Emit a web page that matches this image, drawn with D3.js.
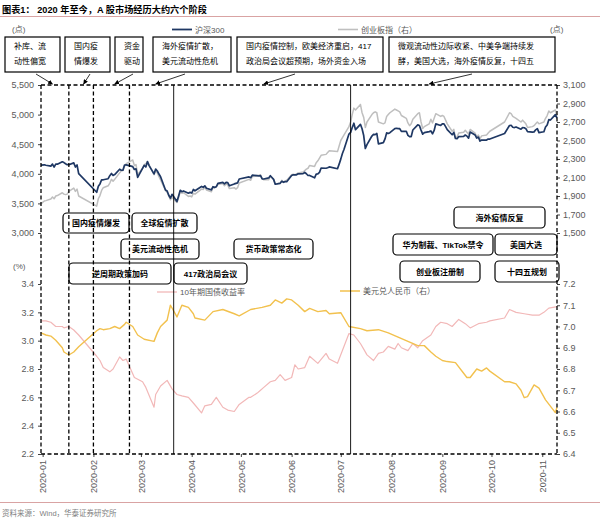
<!DOCTYPE html>
<html><head><meta charset="utf-8">
<script src="https://cdn.jsdelivr.net/npm/d3@7"></script>
<style>
body{margin:0;background:#fff}
svg{display:block}
text{font-family:"Liberation Sans","Noto Sans CJK SC",sans-serif}
</style>
</head><body>
<svg id="c" width="600" height="522"></svg>
<script>
// ---------- DATA ----------
const upDates = [
 "2019-12-31",
 "2020-01-02","2020-01-03","2020-01-06","2020-01-07","2020-01-08","2020-01-09","2020-01-10","2020-01-13","2020-01-14","2020-01-15","2020-01-16","2020-01-17","2020-01-20","2020-01-21","2020-01-22","2020-01-23",
 "2020-02-03","2020-02-04","2020-02-05","2020-02-06","2020-02-07","2020-02-10","2020-02-11","2020-02-12","2020-02-13","2020-02-14","2020-02-17","2020-02-18","2020-02-19","2020-02-20","2020-02-21","2020-02-24","2020-02-25","2020-02-26","2020-02-27","2020-02-28",
 "2020-03-02","2020-03-03","2020-03-04","2020-03-05","2020-03-06","2020-03-09","2020-03-10","2020-03-11","2020-03-12","2020-03-13","2020-03-16","2020-03-17","2020-03-18","2020-03-19","2020-03-20","2020-03-23","2020-03-24","2020-03-25","2020-03-26","2020-03-27","2020-03-30","2020-03-31",
 "2020-04-01","2020-04-02","2020-04-03","2020-04-07","2020-04-08","2020-04-09","2020-04-10","2020-04-13","2020-04-14","2020-04-15","2020-04-16","2020-04-17","2020-04-20","2020-04-21","2020-04-22","2020-04-23","2020-04-24","2020-04-27","2020-04-28","2020-04-29","2020-04-30",
 "2020-05-06","2020-05-07","2020-05-08","2020-05-11","2020-05-12","2020-05-13","2020-05-14","2020-05-15","2020-05-18","2020-05-19","2020-05-20","2020-05-21","2020-05-22","2020-05-25","2020-05-26","2020-05-27","2020-05-28","2020-05-29",
 "2020-06-01","2020-06-02","2020-06-03","2020-06-04","2020-06-05","2020-06-08","2020-06-09","2020-06-10","2020-06-11","2020-06-12","2020-06-15","2020-06-16","2020-06-17","2020-06-18","2020-06-19","2020-06-22","2020-06-23","2020-06-24","2020-06-29","2020-06-30",
 "2020-07-01","2020-07-02","2020-07-03","2020-07-06","2020-07-07","2020-07-08","2020-07-09","2020-07-10","2020-07-13","2020-07-14","2020-07-15","2020-07-16","2020-07-17","2020-07-20","2020-07-21","2020-07-22","2020-07-23","2020-07-24","2020-07-27","2020-07-28","2020-07-29","2020-07-30","2020-07-31",
 "2020-08-03","2020-08-04","2020-08-05","2020-08-06","2020-08-07","2020-08-10","2020-08-11","2020-08-12","2020-08-13","2020-08-14","2020-08-17","2020-08-18","2020-08-19","2020-08-20","2020-08-21","2020-08-24","2020-08-25","2020-08-26","2020-08-27","2020-08-28","2020-08-31",
 "2020-09-01","2020-09-02","2020-09-03","2020-09-04","2020-09-07","2020-09-08","2020-09-09","2020-09-10","2020-09-11","2020-09-14","2020-09-15","2020-09-16","2020-09-17","2020-09-18","2020-09-21","2020-09-22","2020-09-23","2020-09-24","2020-09-25","2020-09-28","2020-09-29","2020-09-30",
 "2020-10-09","2020-10-12","2020-10-13","2020-10-14","2020-10-15","2020-10-16","2020-10-19","2020-10-20","2020-10-21","2020-10-22","2020-10-23","2020-10-26","2020-10-27","2020-10-28","2020-10-29","2020-10-30",
 "2020-11-02","2020-11-03","2020-11-04","2020-11-05","2020-11-06","2020-11-09","2020-11-10"
];
const hs300 = [
 4145,
 4152,4144,4130,4165,4113,4164,4163,4203,4189,4170,4154,4154,4185,4114,4149,4003,
 3688,3790,3829,3899,3899,3917,3969,4006,3973,3987,4077,4060,4061,4149,4150,4130,4122,4073,4085,3940,
 4091,4144,4115,4206,4139,3998,4081,4047,3996,3950,3727,3710,3637,3589,3653,3531,3625,3722,3698,3710,3673,3686,
 3675,3735,3713,3786,3772,3797,3756,3728,3782,3771,3781,3839,3854,3830,3856,3852,3797,3829,3838,3847,3912,
 3947,3934,3976,3970,3963,3970,3915,3912,3930,3968,3937,3906,3824,3839,3873,3856,3868,3867,
 3971,3983,3982,3983,3999,4003,4023,4001,3971,3972,3932,3994,3998,4024,4098,4094,4102,4117,4086,4163,
 4248,4342,4414,4671,4698,4783,4855,4745,4836,4760,4646,4427,4494,4638,4666,4662,4681,4505,4526,4589,4691,4681,4695,
 4762,4769,4764,4762,4717,4718,4650,4629,4628,4740,4826,4817,4738,4670,4695,4712,4724,4676,4732,4844,4816,
 4842,4843,4796,4746,4660,4698,4597,4593,4628,4632,4655,4637,4602,4705,4656,4604,4620,4553,4570,4570,4587,4587,
 4681,4816,4819,4786,4781,4791,4754,4781,4778,4763,4712,4703,4708,4743,4763,4695,
 4710,4791,4825,4915,4908,4999,4942
];
const chinext = [
 1815,
 1846,1850,1867,1890,1870,1900,1905,1935,1920,1915,1920,1950,1985,1950,1975,1900,
 1790,1870,1905,1960,1990,2010,2040,2080,2060,2080,2150,2170,2175,2220,2250,2280,2290,2230,2240,2130,
 2200,2240,2250,2270,2235,2130,2175,2150,2110,2075,1960,1940,1900,1860,1885,1830,1880,1945,1930,1935,1895,1900,
 1890,1930,1920,1975,1970,1995,1965,1945,1990,1990,2005,2025,2035,2010,2030,2020,1980,1990,1975,1990,2040,
 2080,2070,2110,2115,2125,2130,2090,2075,2075,2115,2095,2080,2030,2040,2070,2050,2060,2070,
 2130,2135,2130,2140,2150,2160,2175,2190,2200,2230,2220,2260,2280,2310,2340,2350,2370,2390,2380,2440,
 2500,2530,2560,2650,2700,2780,2850,2830,2890,2800,2750,2640,2700,2780,2800,2810,2800,2700,2680,2690,2760,2780,2800,
 2840,2830,2820,2810,2770,2740,2690,2660,2680,2730,2790,2800,2700,2630,2650,2680,2730,2690,2740,2790,2760,
 2770,2760,2720,2680,2600,2620,2530,2540,2580,2590,2610,2590,2570,2620,2580,2540,2560,2520,2550,2560,2580,2600,
 2700,2800,2790,2760,2750,2740,2700,2720,2700,2680,2640,2650,2660,2680,2700,2680,
 2700,2740,2770,2820,2800,2830,2760
];
// 10-year government bond yield (%)
const cn10y = [
 ["2019-12-31",3.14],["2020-01-03",3.14],["2020-01-06",3.13],["2020-01-09",3.10],["2020-01-13",3.10],["2020-01-14",3.09],["2020-01-17",3.10],["2020-01-20",3.075],["2020-01-23",3.04],
 ["2020-02-03",2.89],["2020-02-05",2.86],["2020-02-07",2.81],["2020-02-11",2.78],["2020-02-13",2.80],["2020-02-17",2.885],["2020-02-19",2.86],["2020-02-21",2.87],["2020-02-26",2.74],
 ["2020-03-02",2.71],["2020-03-04",2.67],["2020-03-09",2.53],["2020-03-10",2.62],["2020-03-13",2.68],["2020-03-17",2.72],["2020-03-20",2.66],["2020-03-23",2.62],["2020-03-26",2.61],["2020-03-30",2.60],
 ["2020-04-02",2.56],["2020-04-07",2.49],["2020-04-09",2.54],["2020-04-13",2.55],["2020-04-16",2.60],["2020-04-20",2.53],["2020-04-23",2.51],["2020-04-27",2.50],["2020-04-30",2.55],
 ["2020-05-06",2.60],["2020-05-07",2.60],["2020-05-11",2.63],["2020-05-13",2.65],["2020-05-15",2.67],["2020-05-19",2.71],["2020-05-22",2.72],["2020-05-25",2.76],["2020-05-28",2.72],
 ["2020-06-01",2.74],["2020-06-03",2.83],["2020-06-05",2.80],["2020-06-09",2.81],["2020-06-12",2.89],["2020-06-17",2.84],["2020-06-22",2.91],["2020-06-24",2.87],["2020-06-29",2.84],
 ["2020-07-03",2.96],["2020-07-06",3.05],["2020-07-09",3.04],["2020-07-13",2.98],["2020-07-15",2.94],["2020-07-17",2.90],["2020-07-21",2.86],["2020-07-24",2.91],["2020-07-27",2.92],["2020-07-30",2.96],
 ["2020-08-03",2.94],["2020-08-05",2.98],["2020-08-07",2.95],["2020-08-11",2.93],["2020-08-14",2.98],["2020-08-17",2.95],["2020-08-20",3.00],["2020-08-25",3.04],["2020-08-28",3.10],["2020-08-31",3.13],
 ["2020-09-04",3.12],["2020-09-07",3.10],["2020-09-11",3.15],["2020-09-15",3.12],["2020-09-18",3.09],["2020-09-23",3.12],["2020-09-28",3.13],["2020-09-30",3.14],
 ["2020-10-09",3.16],["2020-10-12",3.22],["2020-10-16",3.20],["2020-10-21",3.19],["2020-10-26",3.18],["2020-10-30",3.18],
 ["2020-11-02",3.20],["2020-11-05",3.23],["2020-11-10",3.24]
];
// USD/CNY (right axis)
const usdcny = [
 ["2019-12-31",6.97],["2020-01-03",6.96],["2020-01-06",6.955],["2020-01-09",6.935],["2020-01-13",6.90],["2020-01-14",6.88],["2020-01-17",6.866],["2020-01-20",6.88],["2020-01-23",6.905],
 ["2020-02-03",6.98],["2020-02-05",6.99],["2020-02-07",6.985],["2020-02-11",6.99],["2020-02-14",7.00],["2020-02-17",6.99],["2020-02-20",7.01],["2020-02-21",7.02],["2020-02-25",7.00],["2020-02-28",6.96],
 ["2020-03-03",6.94],["2020-03-09",6.93],["2020-03-11",6.97],["2020-03-13",7.00],["2020-03-17",7.03],["2020-03-19",7.10],["2020-03-20",7.087],["2020-03-23",7.045],["2020-03-26",7.10],["2020-03-30",7.09],
 ["2020-04-02",7.06],["2020-04-03",7.04],["2020-04-09",7.03],["2020-04-14",7.07],["2020-04-20",7.08],["2020-04-27",7.06],["2020-04-30",7.05],
 ["2020-05-07",7.08],["2020-05-14",7.09],["2020-05-19",7.10],["2020-05-22",7.125],["2020-05-26",7.11],["2020-05-29",7.13],
 ["2020-06-01",7.125],["2020-06-05",7.10],["2020-06-09",7.07],["2020-06-12",7.085],["2020-06-17",7.07],["2020-06-22",7.075],["2020-06-24",7.06],
 ["2020-07-01",7.065],["2020-07-06",7.00],["2020-07-13",6.99],["2020-07-17",6.98],["2020-07-24",6.985],["2020-07-30",6.97],
 ["2020-08-05",6.95],["2020-08-11",6.93],["2020-08-17",6.91],["2020-08-21",6.91],["2020-08-25",6.88],["2020-08-28",6.86],
 ["2020-09-01",6.84],["2020-09-04",6.835],["2020-09-09",6.83],["2020-09-14",6.78],["2020-09-16",6.76],["2020-09-18",6.76],["2020-09-22",6.80],["2020-09-25",6.79],["2020-09-28",6.805],["2020-09-30",6.79],
 ["2020-10-09",6.74],["2020-10-12",6.74],["2020-10-16",6.73],["2020-10-19",6.70],["2020-10-21",6.665],["2020-10-23",6.67],["2020-10-27",6.725],["2020-10-30",6.71],
 ["2020-11-03",6.655],["2020-11-09",6.595],["2020-11-10",6.62]
];
const leftTicksUp = [3000,3500,4000,4500,5000,5500];
const rightTicksUp = [1500,1700,1900,2100,2300,2500,2700,2900,3100];
const leftTicksLow = [2.2,2.4,2.6,2.8,3.0,3.2,3.4];
const rightTicksLow = [6.4,6.5,6.6,6.7,6.8,6.9,7.0,7.1,7.2];
const phaseDates = ["2020-01-17","2020-02-01","2020-02-23","2020-03-21","2020-07-07"];
const phaseSolid = [false,false,false,true,true];

const topNotes = [
 {lines:["补库、流","动性偏宽"], x:5,w:55, ax:36, tx:"2020-01-07"},
 {lines:["国内疫","情爆发"], x:65,w:45, ax:90, tx:"2020-01-26"},
 {lines:["资金","驱动"], x:115,w:28, ax:133, tx:"2020-02-14"},
 {lines:["海外疫情扩散，","美元流动性危机"], x:153,w:78, ax:185, tx:"2020-03-10"},
 {lines:["国内疫情控制，欧美经济重启，417","政治局会议超预期，场外资金入场"], x:237,w:146, ax:295, tx:"2020-05-15"},
 {lines:["微观流动性边际收紧、中美争端持续发","酵，美国大选，海外疫情反复，十四五"], x:389,w:166, ax:472, tx:"2020-08-24"}
];
const midNotes = [
 {t:"国内疫情爆发", x:63,y:213,w:66,h:20},
 {t:"全球疫情扩散", x:132,y:213,w:65,h:20},
 {t:"美元流动性危机", x:121,y:239,w:78,h:20},
 {t:"货币政策常态化", x:234,y:239,w:79,h:20},
 {t:"逆周期政策加码", x:69,y:263,w:102,h:21},
 {t:"417政治局会议", x:174,y:263,w:73,h:21},
 {t:"海外疫情反复", x:454,y:207,w:91,h:21},
 {t:"华为制裁、TikTok禁令", x:393,y:234,w:100,h:21},
 {t:"美国大选", x:495,y:234,w:62,h:21},
 {t:"创业板注册制", x:400,y:261,w:80,h:21},
 {t:"十四五规划", x:495,y:261,w:64,h:21}
];

// ---------- CHART ----------
const parse = d3.timeParse("%Y-%m-%d");
const svg = d3.select("#c");
const x = d3.scaleTime().domain([parse("2019-12-31"), parse("2020-11-10")]).range([41,557]);
const yL = d3.scaleLinear([3000,5500],[233,85]);
const yR = d3.scaleLinear([1500,3100],[233,85]);
const yL2 = d3.scaleLinear([2.2,3.4],[454,284]);
const yR2 = d3.scaleLinear([6.4,7.2],[454,284]);
const gray = "#595959";

// title & dividers
svg.append("text").attr("x",2).attr("y",13).attr("font-size",9.2).attr("font-weight","bold").attr("fill","#000")
  .text("图表1： 2020 年至今，A 股市场经历大约六个阶段");
svg.append("line").attr("x1",0).attr("x2",600).attr("y1",16.5).attr("y2",16.5).attr("stroke","#d9a3a3").attr("stroke-width",1);
svg.append("line").attr("x1",0).attr("x2",600).attr("y1",502.5).attr("y2",502.5).attr("stroke","#d9a3a3").attr("stroke-width",1);
svg.append("text").attr("x",2).attr("y",516).attr("font-size",7.5).attr("fill","#7f7f7f").text("资料来源：Wind，华泰证券研究所");

// unit labels and legends
svg.append("text").attr("x",12).attr("y",32).attr("font-size",8).attr("fill",gray).text("(点)");
svg.append("text").attr("x",550).attr("y",32).attr("font-size",8).attr("fill",gray).text("(点)");
svg.append("text").attr("x",13).attr("y",269).attr("font-size",8).attr("fill",gray).text("(%)");
function legend(x1,y,color,w,label){
  svg.append("line").attr("x1",x1).attr("x2",x1+20).attr("y1",y).attr("y2",y).attr("stroke",color).attr("stroke-width",w);
  svg.append("text").attr("x",x1+23).attr("y",y+3).attr("font-size",8).attr("fill",gray).text(label);
}
legend(172,29.5,"#1f3864",1.8,"沪深300");
legend(338,29.5,"#bfbfbf",1.6,"创业板指（右）");
legend(157,292,"#f2b8b8",1.3,"10年期国债收益率");
legend(340,291,"#f2c14e",1.5,"美元兑人民币（右）");

// axes
function styleAxis(g){
  g.select(".domain").remove();
  g.selectAll(".tick line").attr("stroke","#404040");
  g.selectAll(".tick text").attr("fill",gray).attr("font-size",9)
   .style("font-family","'Liberation Sans',Arial,sans-serif");
}
svg.append("g").attr("transform","translate(41,0)")
  .call(d3.axisLeft(yL).tickValues(leftTicksUp).tickFormat(d3.format(",")).tickSize(3).tickPadding(4)).call(styleAxis);
svg.append("g").attr("transform","translate(557,0)")
  .call(d3.axisRight(yR).tickValues(rightTicksUp).tickFormat(d3.format(",")).tickSize(3).tickPadding(3)).call(styleAxis);
svg.append("g").attr("transform","translate(41,0)")
  .call(d3.axisLeft(yL2).tickValues(leftTicksLow).tickFormat(d3.format(".1f")).tickSize(3).tickPadding(4)).call(styleAxis);
svg.append("g").attr("transform","translate(557,0)")
  .call(d3.axisRight(yR2).tickValues(rightTicksLow).tickFormat(d3.format(".1f")).tickSize(3).tickPadding(3)).call(styleAxis);
const xa = svg.append("g").attr("transform","translate(0,454)")
  .call(d3.axisBottom(x).ticks(d3.timeMonth.every(1)).tickFormat(d3.timeFormat("%Y-%m")).tickSize(3)).call(styleAxis);
xa.selectAll(".tick text").attr("transform","rotate(-90)").attr("x",-6).attr("y",0).attr("dy","0.35em")
  .style("text-anchor","end");

// data lines
const upData = upDates.map((d,i)=>({d:parse(d),h:hs300[i],c:chinext[i]}));
svg.append("path").datum(upData).attr("fill","none").attr("stroke","#bfbfbf").attr("stroke-width",1.5)
  .attr("stroke-linejoin","round").attr("d",d3.line().x(p=>x(p.d)).y(p=>yR(p.c)));
svg.append("path").datum(upData).attr("fill","none").attr("stroke","#1f3864").attr("stroke-width",1.7)
  .attr("stroke-linejoin","round").attr("d",d3.line().x(p=>x(p.d)).y(p=>yL(p.h)));
svg.append("path").datum(cn10y).attr("fill","none").attr("stroke","#f2b8b8").attr("stroke-width",1.2)
  .attr("stroke-linejoin","round").attr("d",d3.line().x(p=>x(parse(p[0]))).y(p=>yL2(p[1])));
svg.append("path").datum(usdcny).attr("fill","none").attr("stroke","#f2c14e").attr("stroke-width",1.4)
  .attr("stroke-linejoin","round").attr("d",d3.line().x(p=>x(parse(p[0]))).y(p=>yR2(p[1])));

// frame & phase lines
const [xl,xr] = x.range(), yt = yL.range()[1], yb = yL2.range()[0];
const dash = "4,2.5";
function seg(x1,y1,x2,y2,solid){
  svg.append("line").attr("x1",x1).attr("y1",y1).attr("x2",x2).attr("y2",y2)
    .attr("stroke","#000").attr("stroke-width",solid?0.9:1.3).attr("stroke-dasharray",solid?null:dash);
}
seg(xl,yt,xr,yt); seg(xl,yb,xr,yb); seg(xl,yt,xl,yb); seg(xr,yt,xr,yb);
phaseDates.forEach((d,i)=>{const px=x(parse(d)); seg(px,yt,px,yb,phaseSolid[i]);});

// arrow marker
svg.append("defs").append("marker").attr("id","ah").attr("viewBox","0 0 10 10").attr("refX",9).attr("refY",5)
  .attr("markerWidth",6).attr("markerHeight",6).attr("orient","auto")
  .append("path").attr("d","M0,0L10,5L0,10z").attr("fill","#000");

// top notes
topNotes.forEach(n=>{
  svg.append("rect").attr("x",n.x).attr("y",37).attr("width",n.w).attr("height",35)
    .attr("fill","#fff").attr("stroke","#000").attr("stroke-width",1.2);
  n.lines.forEach((l,i)=>svg.append("text").attr("x",n.x+9).attr("y",48.5+i*15).attr("font-size",8)
    .attr("fill","#000").text(l));
  svg.append("line").attr("x1",n.ax).attr("y1",74).attr("x2",x(parse(n.tx))).attr("y2",yt-1)
    .attr("stroke","#000").attr("stroke-width",0.8).attr("marker-end","url(#ah)");
});

// middle notes
midNotes.forEach(n=>{
  svg.append("rect").attr("x",n.x).attr("y",n.y).attr("width",n.w).attr("height",n.h).attr("rx",4)
    .attr("fill","none").attr("stroke","#000").attr("stroke-width",1.2);
  svg.append("text").attr("x",n.x+n.w/2).attr("y",n.y+n.h/2+3).attr("text-anchor","middle")
    .attr("font-size",8).attr("font-weight","bold").attr("fill","#000").text(n.t);
});
</script>
</body></html>
